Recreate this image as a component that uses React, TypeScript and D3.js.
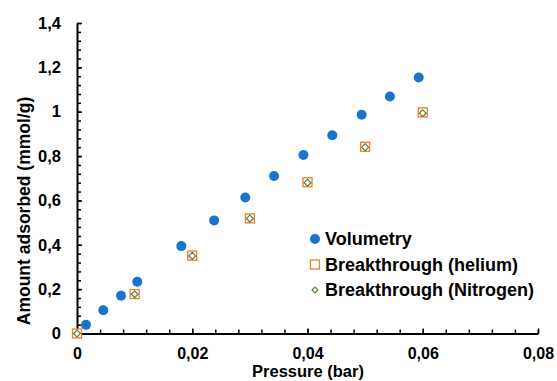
import * as d3 from "d3";
import { useEffect, useRef } from "react";

// Volumetry (blue circles)
const volPressure = [0.00156, 0.00456, 0.00764, 0.01046, 0.0181, 0.0238, 0.0292, 0.0342, 0.0393, 0.0443, 0.0494, 0.0543, 0.0593];
const volAmount = [0.039, 0.105, 0.17, 0.233, 0.394, 0.51, 0.613, 0.71, 0.805, 0.894, 0.986, 1.069, 1.154];

// Breakthrough helium (orange squares)
const heliumPressure = [0, 0.01, 0.02, 0.03, 0.04, 0.05, 0.06];
const heliumAmount = [0, 0.178, 0.351, 0.519, 0.682, 0.842, 0.997];

// Breakthrough nitrogen (green diamonds)
const nitrogenPressure = [0, 0.01, 0.02, 0.03, 0.04, 0.05, 0.06];
const nitrogenAmount = [0, 0.177, 0.35, 0.518, 0.68, 0.84, 0.993];

const xTicks = [0, 0.02, 0.04, 0.06, 0.08];
const yTicks = [0, 0.2, 0.4, 0.6, 0.8, 1, 1.2, 1.4];
const seriesNames = ["Volumetry", "Breakthrough (helium)", "Breakthrough (Nitrogen)"];

const W = 557;
const H = 381;
const FONT = "'Liberation Sans', Arial, sans-serif";
const BLUE = "#1874CD";
const ORANGE = "#ED7D31";
const GREEN = "#548235";

const fmt = d3.formatLocale({ decimal: ",", thousands: ".", grouping: [3], currency: ["", ""] }).format("~g");

const App = () => {
    const svgRef = useRef<SVGSVGElement | null>(null);

    useEffect(() => {
        const svg = d3.select(svgRef.current);
        svg.selectAll("*").remove();

        const x = d3.scaleLinear().domain([0, 0.08]).range([77, 538]);
        const y = d3.scaleLinear().domain([0, 1.4]).range([333.5, 23]);

        // minor ticks
        svg.append("g")
            .attr("transform", `translate(0,${y(0)})`)
            .call(d3.axisBottom(x).tickValues(d3.range(0, 0.0801, 0.004)).tickSize(-4).tickFormat(() => ""))
            .call(g => g.select(".domain").remove())
            .selectAll("line").attr("stroke", "#000").attr("stroke-width", 1.5);
        svg.append("g")
            .attr("transform", `translate(${x(0)},0)`)
            .call(d3.axisLeft(y).tickValues(d3.range(0, 1.401, 0.04)).tickSize(-4).tickFormat(() => ""))
            .call(g => g.select(".domain").remove())
            .selectAll("line").attr("stroke", "#000").attr("stroke-width", 1.5);

        // major ticks + labels
        const xAxis = svg.append("g")
            .attr("transform", `translate(0,${y(0)})`)
            .call(d3.axisBottom(x).tickValues(xTicks).tickSize(-5).tickSizeOuter(0).tickPadding(14.5).tickFormat(d => fmt(+d)));
        const yAxis = svg.append("g")
            .attr("transform", `translate(${x(0)},0)`)
            .call(d3.axisLeft(y).tickValues(yTicks).tickSize(-5).tickSizeOuter(0).tickPadding(16).tickFormat(d => fmt(+d)));
        [xAxis, yAxis].forEach(g => {
            g.select(".domain").attr("stroke", "#000").attr("stroke-width", 2);
            g.selectAll("line").attr("stroke", "#000").attr("stroke-width", 1.5);
            g.selectAll("text")
                .attr("fill", "#000")
                .style("font-family", FONT)
                .style("font-size", "16.5px")
                .style("font-weight", "bold");
        });
        xAxis.selectAll("text").style("font-size", "16px");

        // axis titles
        svg.append("text")
            .attr("x", 308).attr("y", 377)
            .attr("text-anchor", "middle")
            .style("font-family", FONT).style("font-size", "16.5px").style("font-weight", "bold")
            .text("Pressure (bar)");
        svg.append("text")
            .attr("transform", `translate(30,211) rotate(-90)`)
            .attr("text-anchor", "middle")
            .style("font-family", FONT).style("font-size", "17.5px").style("font-weight", "bold")
            .text("Amount adsorbed (mmol/g)");

        // volumetry
        svg.append("g").selectAll("circle")
            .data(volPressure.map((p, i) => [p, volAmount[i]]))
            .join("circle")
            .attr("cx", d => x(d[0])).attr("cy", d => y(d[1]))
            .attr("r", 5)
            .attr("fill", BLUE);

        // helium squares
        const sq = 9;
        svg.append("g").selectAll("rect")
            .data(heliumPressure.map((p, i) => [p, heliumAmount[i]]))
            .join("rect")
            .attr("x", d => x(d[0]) - sq / 2).attr("y", d => y(d[1]) - sq / 2)
            .attr("width", sq).attr("height", sq)
            .attr("fill", "#fff").attr("stroke", ORANGE).attr("stroke-width", 1.3);

        // nitrogen diamonds
        const diamond = d3.symbol(d3.symbolDiamond2, 30);
        svg.append("g").selectAll("path")
            .data(nitrogenPressure.map((p, i) => [p, nitrogenAmount[i]]))
            .join("path")
            .attr("transform", d => `translate(${x(d[0])},${y(d[1])})`)
            .attr("d", diamond())
            .attr("fill", "#fff").attr("stroke", GREEN).attr("stroke-width", 1.2);

        // legend
        const legendY = [239, 264.5, 290];
        const lg = svg.append("g");
        lg.append("circle").attr("cx", 315).attr("cy", legendY[0]).attr("r", 5).attr("fill", BLUE);
        lg.append("rect")
            .attr("x", 315 - sq / 2).attr("y", legendY[1] - sq / 2).attr("width", sq).attr("height", sq)
            .attr("fill", "#fff").attr("stroke", ORANGE).attr("stroke-width", 1.3);
        lg.append("path")
            .attr("transform", `translate(315,${legendY[2]})`)
            .attr("d", d3.symbol(d3.symbolDiamond2, 22)())
            .attr("fill", "#fff").attr("stroke", GREEN).attr("stroke-width", 1.2);
        lg.selectAll("text")
            .data(seriesNames)
            .join("text")
            .attr("x", 325)
            .attr("y", (_, i) => legendY[i])
            .attr("dy", "0.36em")
            .style("font-family", FONT).style("font-size", "18px").style("font-weight", "bold")
            .text(d => d);
    }, []);

    return (
        <svg
            ref={svgRef}
            width={W}
            height={H}
            style={{ position: "absolute", left: 0, top: 0, background: "#fff" }}
        ></svg>
    );
};

export default App;
